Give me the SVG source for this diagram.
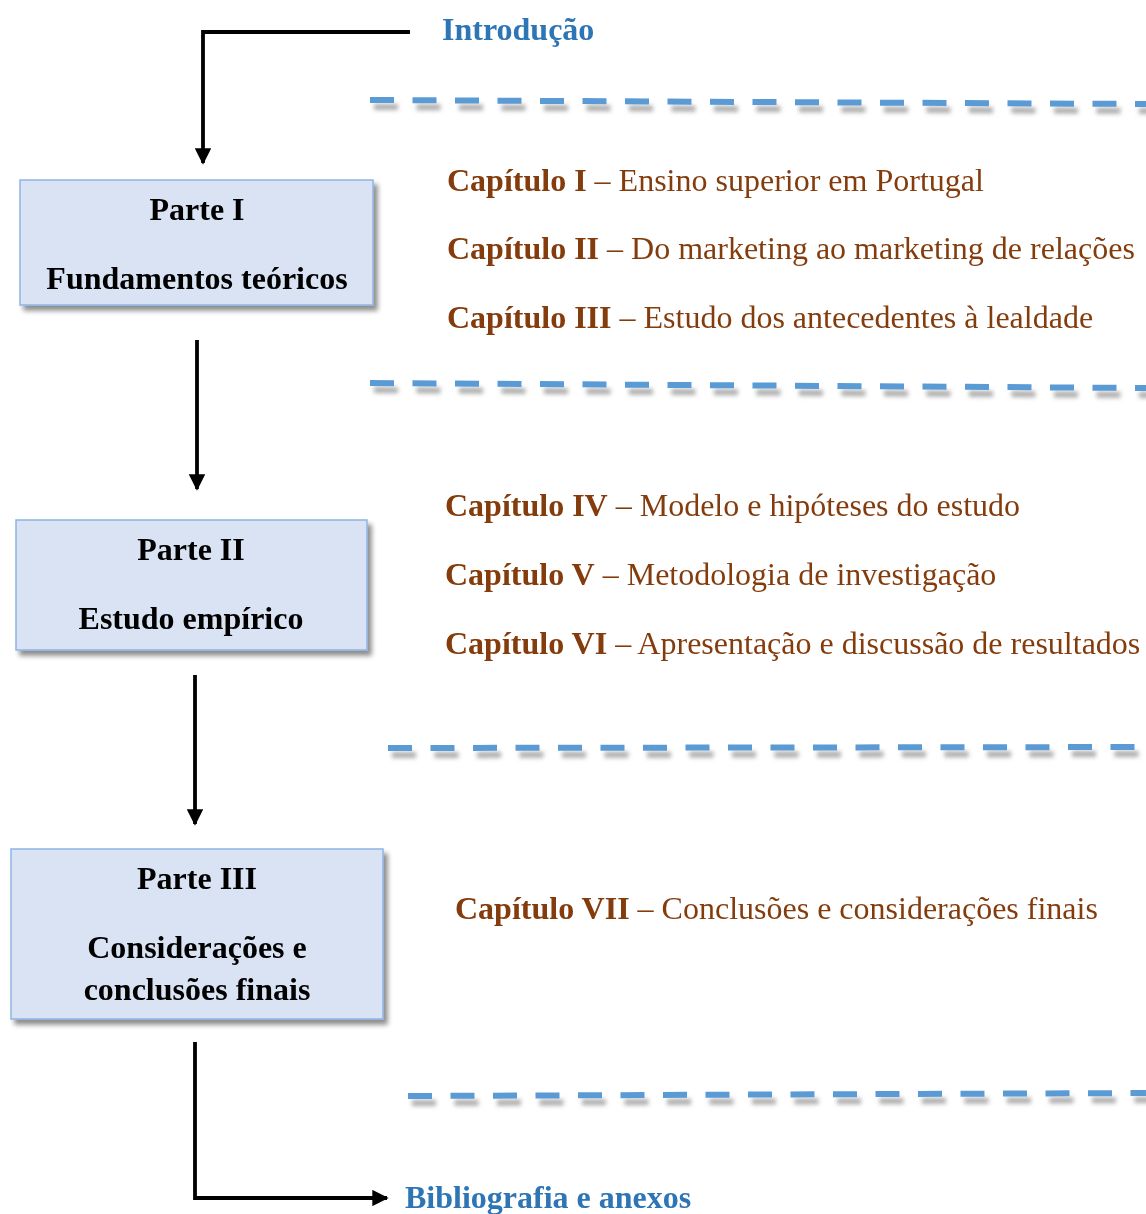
<svg xmlns="http://www.w3.org/2000/svg" width="1146" height="1214" viewBox="0 0 1146 1214">
  <style>
    .box { fill: #DAE3F3; stroke: #8FB4E3; stroke-width: 1.5; }
    .boxtxt { font-family: "Liberation Serif", "Times New Roman", serif; font-weight: bold; font-size: 32px; fill: #000; text-anchor: middle; }
    .chap { font-family: "Liberation Serif", "Times New Roman", serif; font-size: 32px; fill: #843C0C; }
    .chap tspan.b { font-weight: bold; }
    .blue { font-family: "Liberation Serif", "Times New Roman", serif; font-weight: bold; font-size: 32px; fill: #2E75B6; }
    .conn { fill: none; stroke: #000; stroke-width: 3.8; }
    .dash { fill: none; stroke: #5B9BD5; stroke-width: 6; stroke-dasharray: 24 18.5; }
    .dashshadow { fill: none; stroke: #8a8a8a; stroke-width: 6; stroke-dasharray: 24 18.5; opacity: 0.7; }
  </style>
  <defs>
    <marker id="arrow" viewBox="0 0 10 10" refX="9" refY="5" markerWidth="4.3" markerHeight="4.3" orient="auto" markerUnits="strokeWidth">
      <path d="M0,0 L10,5 L0,10 z" fill="#000"/>
    </marker>
    <filter id="shadow" x="-10%" y="-10%" width="125%" height="130%">
      <feGaussianBlur in="SourceAlpha" stdDeviation="2.5"/>
      <feOffset dx="4" dy="5" result="off"/>
      <feComponentTransfer><feFuncA type="linear" slope="0.45"/></feComponentTransfer>
      <feMerge><feMergeNode/><feMergeNode in="SourceGraphic"/></feMerge>
    </filter>
    <filter id="soft" x="-5%" y="-200%" width="110%" height="500%">
      <feGaussianBlur stdDeviation="2"/>
    </filter>
  </defs>

  <!-- section separators -->
  <g id="separators">
    <g filter="url(#soft)">
      <path class="dashshadow" d="M374,107 L1150,111"/>
      <path class="dashshadow" d="M374,390 L1150,395"/>
      <path class="dashshadow" d="M392,755 L1150,754"/>
      <path class="dashshadow" d="M412,1103 L1150,1100"/>
    </g>
    <path class="dash" d="M370,100 L1146,104"/>
    <path class="dash" d="M370,383 L1146,388"/>
    <path class="dash" d="M388,748 L1146,747"/>
    <path class="dash" d="M408,1096 L1146,1093"/>
  </g>

  <!-- connectors -->
  <g id="connectors">
    <path class="conn" d="M410,32 L203,32 L203,163" marker-end="url(#arrow)"/>
    <path class="conn" d="M197,340 L197,489" marker-end="url(#arrow)"/>
    <path class="conn" d="M195,675 L195,824" marker-end="url(#arrow)"/>
    <path class="conn" d="M195,1042 L195,1198 L387,1198" marker-end="url(#arrow)"/>
  </g>

  <g id="intro">
    <text class="blue" x="442" y="40">Introdução</text>
  </g>

  <g id="parte1">
    <rect class="box" x="20" y="180" width="353" height="125" filter="url(#shadow)"/>
    <text class="boxtxt" x="197" y="220">Parte I</text>
    <text class="boxtxt" x="197" y="289">Fundamentos teóricos</text>
  </g>

  <g id="parte2">
    <rect class="box" x="16" y="520" width="351" height="130" filter="url(#shadow)"/>
    <text class="boxtxt" x="191" y="560">Parte II</text>
    <text class="boxtxt" x="191" y="629">Estudo empírico</text>
  </g>

  <g id="parte3">
    <rect class="box" x="11" y="849" width="372" height="170" filter="url(#shadow)"/>
    <text class="boxtxt" x="197" y="889">Parte III</text>
    <text class="boxtxt" x="197" y="958">Considerações e</text>
    <text class="boxtxt" x="197" y="1000">conclusões finais</text>
  </g>

  <g id="capitulos1">
    <text class="chap" x="447" y="191"><tspan class="b">Capítulo I</tspan> – Ensino superior em Portugal</text>
    <text class="chap" x="447" y="259"><tspan class="b">Capítulo II</tspan> – Do marketing ao marketing de relações</text>
    <text class="chap" x="447" y="328"><tspan class="b">Capítulo III</tspan> – Estudo dos antecedentes à lealdade</text>
  </g>

  <g id="capitulos2">
    <text class="chap" x="445" y="516"><tspan class="b">Capítulo IV</tspan> – Modelo e hipóteses do estudo</text>
    <text class="chap" x="445" y="585"><tspan class="b">Capítulo V</tspan> – Metodologia de investigação</text>
    <text class="chap" x="445" y="654"><tspan class="b">Capítulo VI</tspan> – Apresentação e discussão de resultados</text>
  </g>

  <g id="capitulos3">
    <text class="chap" x="455" y="919"><tspan class="b">Capítulo VII</tspan> – Conclusões e considerações finais</text>
  </g>

  <g id="fim">
    <text class="blue" x="405" y="1208">Bibliografia e anexos</text>
  </g>
</svg>
